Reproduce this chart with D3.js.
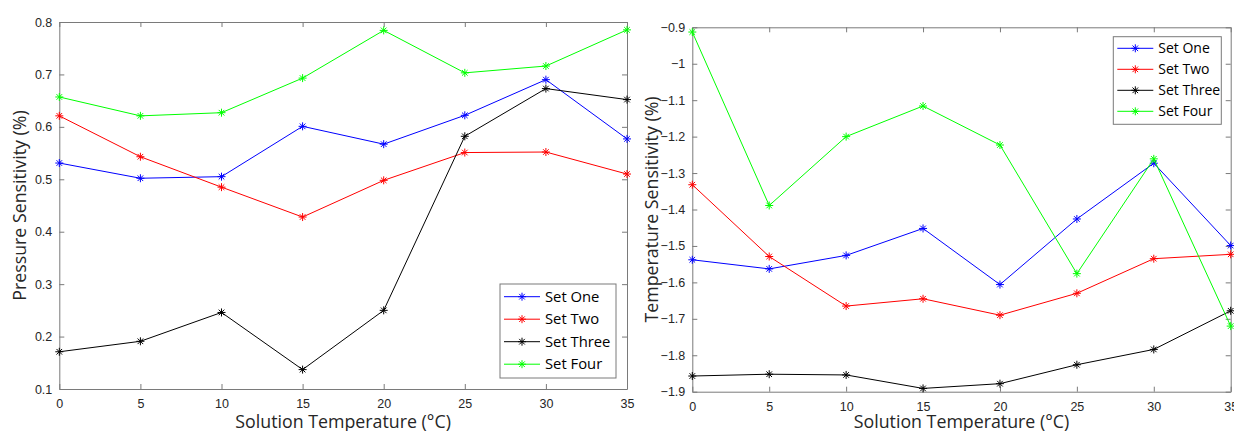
<!DOCTYPE html>
<html>
<head>
<meta charset="utf-8">
<script src="https://cdn.jsdelivr.net/npm/d3@7"></script>
<style>
  body { margin: 0; background: #fff; }
  svg { display: block; }
</style>
</head>
<body>
<svg id="chart"></svg>
<script>
const temps = [0, 5, 10, 15, 20, 25, 30, 35];
const seriesNames = ["Set One", "Set Two", "Set Three", "Set Four"];
const seriesColors = ["#0000ff", "#ff0000", "#000000", "#00ff00"];

// pressure sensitivity (%)
const pressOne = [0.531, 0.502, 0.505, 0.601, 0.567, 0.622, 0.690, 0.577];
const pressTwo = [0.621, 0.543, 0.485, 0.428, 0.498, 0.551, 0.552, 0.510];
const pressThree = [0.171, 0.191, 0.246, 0.137, 0.250, 0.582, 0.673, 0.652];
const pressFour = [0.657, 0.621, 0.627, 0.693, 0.784, 0.703, 0.716, 0.785];
const pressTicks = [0.1, 0.2, 0.3, 0.4, 0.5, 0.6, 0.7, 0.8];

// temperature sensitivity (%)
const tempOne = [-1.538, -1.563, -1.526, -1.452, -1.606, -1.426, -1.273, -1.499];
const tempTwo = [-1.332, -1.529, -1.665, -1.645, -1.690, -1.630, -1.535, -1.523];
const tempThree = [-1.857, -1.852, -1.854, -1.891, -1.878, -1.826, -1.784, -1.678];
const tempFour = [-0.913, -1.389, -1.200, -1.116, -1.223, -1.576, -1.261, -1.720];
const tempTicks = [-1.9, -1.8, -1.7, -1.6, -1.5, -1.4, -1.3, -1.2, -1.1, -1, -0.9];

const svg = d3.select("#chart").attr("width", 1234).attr("height", 431);

const star = "M-4,0L4,0M0,-4L0,4M-2.8,-2.8L2.8,2.8M-2.8,2.8L2.8,-2.8";
const axisColor = "#7a7a7a";
const tickFont = "'Liberation Sans', Arial, sans-serif";
const labelFont = "'Open Sans', sans-serif";

function panel(opts) {
    const x = d3.scaleLinear().domain([0, 35]).range([opts.left, opts.right]);
    const y = d3.scaleLinear().domain(opts.yDomain).range([opts.bottom, opts.top]);
    const g = svg.append("g");

    // box with inward ticks on all sides
    const axes = [
        [d3.axisBottom(x), `translate(0,${opts.bottom})`, true],
        [d3.axisTop(x), `translate(0,${opts.top})`, false],
        [d3.axisLeft(y), `translate(${opts.left},0)`, true],
        [d3.axisRight(y), `translate(${opts.right},0)`, false]
    ];
    axes.forEach(([ax, tr, labelled], i) => {
        if (i < 2) ax.tickValues(temps).tickFormat(d3.format("d"));
        else ax.tickValues(opts.yTicks).tickFormat(d => d3.format("")(+d.toFixed(1)));
        ax.tickSizeInner(-5).tickSizeOuter(0).tickPadding(i < 2 ? 10 : 7);
        const a = g.append("g").attr("transform", tr).call(ax);
        a.select(".domain").attr("stroke", axisColor);
        a.selectAll(".tick line").attr("stroke", axisColor);
        a.selectAll("text")
            .attr("fill", "#262626")
            .style("font-family", tickFont)
            .style("font-size", "12.5px")
            .style("display", labelled ? null : "none");
    });

    g.append("text")
        .attr("x", (opts.left + opts.right) / 2)
        .attr("y", 428)
        .attr("text-anchor", "middle")
        .style("font-family", labelFont)
        .style("font-size", "17.8px")
        .attr("fill", "#262626")
        .text("Solution Temperature (°C)");

    g.append("text")
        .attr("transform", `translate(${opts.yLabelX},${(opts.top + opts.bottom) / 2}) rotate(-90)`)
        .attr("text-anchor", "middle")
        .style("font-family", labelFont)
        .style("font-size", "17.8px")
        .attr("fill", "#262626")
        .text(opts.yLabel);

    const line = d3.line().x((d, i) => x(temps[i])).y(d => y(d));
    opts.series.forEach((vals, k) => {
        g.append("path")
            .attr("d", line(vals))
            .attr("fill", "none")
            .attr("stroke", seriesColors[k])
            .attr("stroke-width", 1);
        g.selectAll(null)
            .data(vals)
            .enter()
            .append("path")
            .attr("d", star)
            .attr("transform", (d, i) => `translate(${x(temps[i])},${y(d)})`)
            .attr("stroke", seriesColors[k])
            .attr("stroke-width", 1);
    });

    // legend
    const L = opts.legend;
    const lg = g.append("g").attr("transform", `translate(${L.x},${L.y})`);
    lg.append("rect")
        .attr("width", L.w).attr("height", L.h)
        .attr("fill", "#fff").attr("stroke", axisColor);
    seriesNames.forEach((name, k) => {
        const cy = L.first + k * L.step;
        lg.append("line")
            .attr("x1", 4).attr("x2", 40).attr("y1", cy).attr("y2", cy)
            .attr("stroke", seriesColors[k]);
        lg.append("path")
            .attr("d", star)
            .attr("transform", `translate(22,${cy})`)
            .attr("stroke", seriesColors[k]);
        lg.append("text")
            .attr("x", 45).attr("y", cy)
            .attr("dy", "0.35em")
            .style("font-family", labelFont)
            .style("font-size", L.font)
            .attr("fill", "#000")
            .text(name);
    });
}

panel({
    left: 59.3, right: 627, top: 22, bottom: 389,
    yDomain: [0.1, 0.8], yTicks: pressTicks,
    yLabel: "Pressure Sensitivity (%)", yLabelX: 26,
    series: [pressOne, pressTwo, pressThree, pressFour],
    legend: { x: 500, y: 284, w: 116, h: 94, first: 12.7, step: 22.5, font: "14.8px" }
});

panel({
    left: 692.3, right: 1230.7, top: 27.3, bottom: 391.7,
    yDomain: [-1.9, -0.9], yTicks: tempTicks,
    yLabel: "Temperature Sensitivity (%)", yLabelX: 658,
    series: [tempOne, tempTwo, tempThree, tempFour],
    legend: { x: 1113.3, y: 36.7, w: 108, h: 87.6, first: 11.6, step: 21, font: "14px" }
});
</script>
</body>
</html>
